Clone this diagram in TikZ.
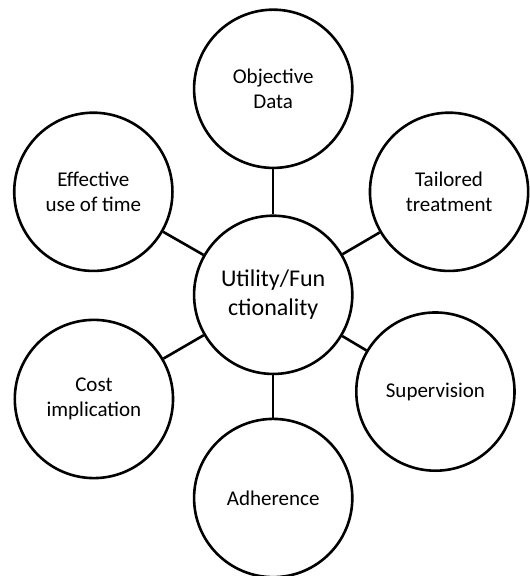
\documentclass[tikz,border=0pt]{standalone}
\usepackage{fontspec}
\setmainfont{Carlito}
\usepackage{tikz}

\begin{document}
\begin{tikzpicture}[bubble/.style={circle, draw, line width=1.3pt, minimum size=2.78cm, inner sep=0pt, align=center, font=\fontsize{10.5}{12.4}\selectfont}, link/.style={line width=1.3pt}]

\useasboundingbox (-4.80,-4.94) rectangle (4.50,5.18);

\node[bubble, font=\fontsize{12}{14.6}\selectfont] (util) at (0,0) {Utility/Fun\\ctionality};

\node[bubble] (objdata) at (0,3.62) {Objective\\Data};
\node[bubble] (tailored) at (3.09,1.81) {Tailored\\treatment};
\node[bubble] (superv) at (2.85,-1.70) {Supervision};
\node[bubble] (adher) at (0,-3.57) {Adherence};
\node[bubble] (cost) at (-3.15,-1.83) {Cost\\implication};
\node[bubble] (efftime) at (-3.16,1.81) {Effective\\use of time};

\draw[link] (util) -- (objdata);
\draw[link] (util) -- (tailored);
\draw[link] (util) -- (superv);
\draw[link] (util) -- (adher);
\draw[link] (util) -- (cost);
\draw[link] (util) -- (efftime);

\end{tikzpicture}
\end{document}
